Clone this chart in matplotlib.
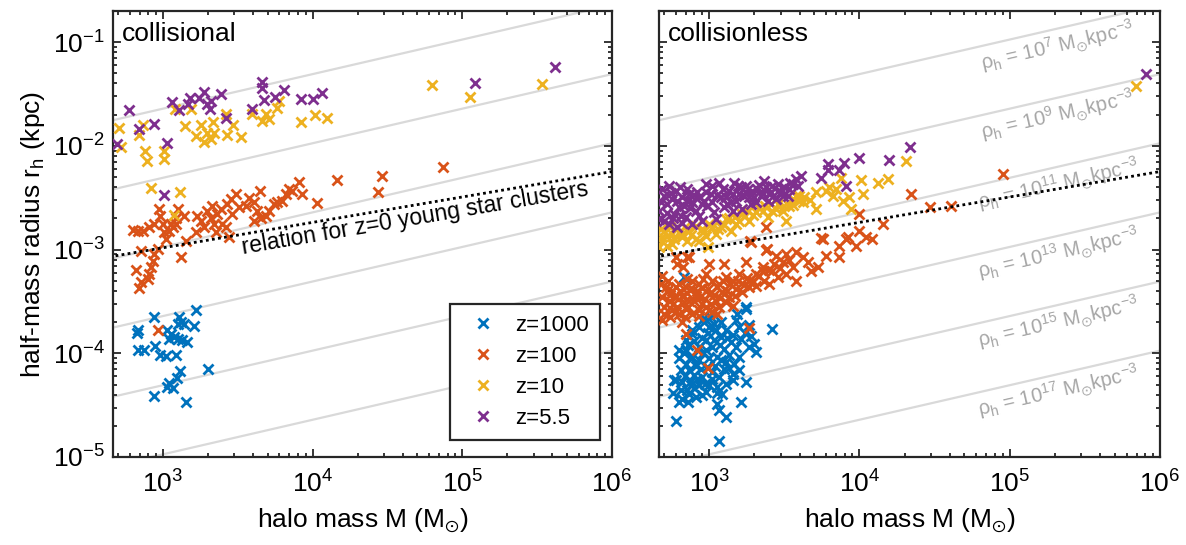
import numpy as np
import matplotlib
matplotlib.use("Agg")
import matplotlib.pyplot as plt
from matplotlib.ticker import LogLocator, NullFormatter

plt.rcParams['font.family'] = ['Liberation Sans', 'DejaVu Sans']
plt.rcParams['mathtext.fontset'] = 'custom'
plt.rcParams['mathtext.rm'] = 'Liberation Sans'
plt.rcParams['mathtext.it'] = 'Liberation Sans:italic'
plt.rcParams['mathtext.default'] = 'regular'

labels = ['z=1000', 'z=100', 'z=10', 'z=5.5']
colors = ['#0072BD', '#D95319', '#EDB120', '#7E2F8E']

# collisional panel: (halo mass Msun, half-mass radius kpc)
cl_z1000 = [(1660, 2.63e-4), (875, 2.23e-4), (1284, 2.23e-4), (1318, 2.0e-4), (1253, 1.93e-4),
            (1387, 1.93e-4), (1603, 1.82e-4), (684, 1.66e-4), (671, 1.57e-4), (1074, 1.66e-4),
            (1130, 1.55e-4), (1102, 1.38e-4), (1189, 1.43e-4), (1253, 1.38e-4), (1352, 1.33e-4),
            (1445, 1.28e-4), (678, 1.08e-4), (743, 1.08e-4), (885, 1.17e-4), (959, 9.6e-5),
            (1047, 9.4e-5), (1221, 9.7e-5), (2004, 7.1e-5), (1304, 6.8e-5), (1240, 5.8e-5),
            (1102, 5.2e-5), (1074, 4.7e-5), (1161, 4.6e-5), (875, 3.9e-5), (1423, 3.4e-5)]
cl_z100 = [(634, 0.00155), (678, 0.00152), (732, 0.00150), (811, 0.00164), (875, 0.00177),
           (945, 0.00246), (959, 0.00212), (995, 0.00177), (1020, 0.00147), (1047, 0.00127),
           (1102, 0.00152), (1130, 0.00177), (1161, 0.00164), (1221, 0.00177), (1253, 0.00246),
           (1221, 0.00204), (1387, 0.00212), (1423, 0.00122), (1318, 0.00084), (922, 0.00102),
           (875, 0.00091), (853, 0.00078), (832, 0.00068), (811, 0.00058), (791, 0.00052),
           (713, 0.00049), (695, 0.00043), (661, 0.00063), (713, 0.00098), (1702, 0.00212),
           (1791, 0.0019), (1660, 0.00147), (1884, 0.00164), (1986, 0.00237), (2089, 0.00204),
           (2143, 0.00265), (2198, 0.00177), (2256, 0.00147), (2317, 0.0022), (2437, 0.00246),
           (2500, 0.00177), (2630, 0.00164), (2767, 0.00131), (2699, 0.00275), (2917, 0.0022),
           (2838, 0.00307), (3069, 0.00343), (3228, 0.00255), (3573, 0.00265), (3760, 0.00318),
           (4064, 0.00285), (4277, 0.00237), (4064, 0.0019), (4452, 0.00369), (4500, 0.00204),
           (4860, 0.00212), (5117, 0.00237), (5520, 0.00275), (5816, 0.00285), (6281, 0.00296),
           (6607, 0.00343), (6950, 0.00383), (7322, 0.00369), (8110, 0.00444), (8537, 0.00343),
           (10640, 0.00279), (14620, 0.00468), (27230, 0.00356), (29170, 0.00514),
           (74300, 0.00628), (930, 0.000169)]
cl_z10 = [(512, 0.0150), (525, 0.0098), (695, 0.0128), (732, 0.0158), (759, 0.00895),
          (782, 0.00718), (1020, 0.00895), (1020, 0.00745), (1202, 0.0225), (1402, 0.0156),
          (1537, 0.0225), (1660, 0.0125), (1791, 0.0159), (1884, 0.0108), (1986, 0.0134),
          (2178, 0.0170), (2198, 0.0134), (2089, 0.0116), (2630, 0.0202), (2671, 0.0128),
          (2958, 0.0159), (3311, 0.0122), (3963, 0.0202), (4620, 0.0174), (4860, 0.0202),
          (5117, 0.0181), (5816, 0.0233), (5960, 0.0271), (8318, 0.0171), (10360, 0.0197),
          (12530, 0.0187), (832, 0.00397), (1304, 0.00361), (1189, 0.00215), (62800, 0.0383),
          (113000, 0.0298), (340000, 0.0397)]
cl_z55 = [(596, 0.0220), (695, 0.0145), (867, 0.0164), (1074, 0.0106), (494, 0.0104),
          (1143, 0.0267), (1284, 0.0220), (1475, 0.0252), (1520, 0.0291), (1746, 0.0291),
          (1884, 0.0332), (1965, 0.0255), (2089, 0.0271), (2066, 0.0225), (2437, 0.0314),
          (2630, 0.0187), (3920, 0.0225), (4571, 0.0415), (4571, 0.0359), (4736, 0.0275),
          (5580, 0.0296), (6437, 0.0343), (8318, 0.0285), (10040, 0.0285), (11600, 0.0321),
          (1020, 0.00338), (122000, 0.0401), (417000, 0.0574)]

# collisionless panel: (log10 M, log10 r_h)
nc_z1000 = [(3.422, -3.763), (3.267, -3.731), (3.244, -3.555), (3.178, -3.683), (2.782, -4.651),
            (3.067, -4.843), (3.116, -4.613), (3.067, -4.549), (3.056, -4.485), (3.211, -4.469),
            (3.244, -4.276), (3.2, -4.164), (3.156, -4.26), (3.3, -3.908), (3.311, -3.988),
            (3.267, -3.94), (2.8, -3.972), (2.844, -3.876), (2.889, -3.812), (2.933, -3.747),
            (2.978, -3.683), (3.011, -3.651), (3.044, -3.779), (3.078, -3.844), (3.111, -3.779),
            (3.144, -3.892), (3.178, -3.94), (3.2, -4.036), (3.167, -4.1), (3.133, -4.02),
            (3.1, -3.956), (3.056, -4.036), (3.022, -3.94), (2.978, -3.876), (2.933, -3.94),
            (2.889, -4.036), (2.844, -4.1), (2.811, -4.164), (2.778, -4.26), (2.822, -4.276),
            (2.811, -4.356), (2.822, -4.436), (2.867, -4.388), (2.911, -4.42), (2.878, -4.308),
            (2.933, -4.308), (2.956, -4.228), (2.9, -4.212), (2.867, -4.164), (2.989, -4.132),
            (3.022, -4.18), (3.067, -4.228), (3.1, -4.148), (3.0, -4.308), (2.978, -4.372),
            (3.056, -4.324), (3.111, -4.292), (2.933, -4.068), (2.844, -3.972), (2.944, -4.148),
            (3.089, -4.388), (3.111, -4.084), (2.833, -3.267), (3.244, -3.571), (3.189, -3.619),
            (2.956, -3.683), (3.0, -3.748), (2.889, -3.78), (2.767, -4.26),
            (2.80, -4.05), (2.83, -4.00), (2.86, -3.92), (2.90, -3.88), (2.95, -3.85),
            (2.99, -3.80), (3.03, -3.87), (3.07, -3.92), (3.12, -3.85), (3.16, -3.82),
            (3.21, -3.86), (3.24, -3.80), (2.87, -4.05), (2.91, -4.12), (2.96, -4.00),
            (3.00, -4.05), (3.04, -4.12), (3.08, -4.06), (3.13, -4.14), (3.16, -4.20),
            (2.84, -4.22), (2.88, -4.27), (2.92, -4.25), (2.97, -4.30), (3.02, -4.25),
            (3.05, -4.38), (2.85, -4.35), (2.95, -4.40), (2.90, -4.33), (3.20, -3.75),
            (3.28, -3.83), (3.08, -3.70), (3.03, -3.72), (2.98, -3.97), (2.76, -4.38),
            (2.80, -4.47), (2.86, -4.47)]
nc_z100 = [(3.278, -2.924), (3.378, -3.004), (3.744, -2.889), (3.867, -2.962), (3.922, -2.882),
           (3.867, -3.074), (2.856, -3.074), (2.789, -3.138), (3.0, -3.138), (3.1, -3.138),
           (3.244, -3.122), (3.444, -3.058), (3.511, -3.042), (3.578, -3.026), (3.622, -3.074),
           (3.656, -3.122), (3.678, -3.202), (3.556, -3.17), (3.489, -3.122), (3.778, -3.058),
           (3.722, -3.17), (3.578, -3.298), (3.511, -3.234), (3.422, -3.202), (3.356, -3.17),
           (3.311, -3.234), (3.267, -3.298), (3.2, -3.234), (3.156, -3.298), (3.111, -3.266),
           (3.067, -3.331), (3.022, -3.298), (2.978, -3.234), (2.933, -3.331), (2.889, -3.298),
           (2.844, -3.363), (2.8, -3.331), (2.756, -3.395), (2.711, -3.363), (2.689, -3.459),
           (2.733, -3.491), (2.778, -3.459), (2.822, -3.443), (2.867, -3.491), (2.911, -3.443),
           (2.956, -3.523), (3.0, -3.427), (3.044, -3.491), (3.089, -3.411), (3.133, -3.459),
           (3.178, -3.379), (3.222, -3.411), (3.267, -3.363), (3.311, -3.347), (3.367, -3.298),
           (3.4, -3.331), (3.456, -3.266), (2.7, -3.555), (2.756, -3.587), (2.8, -3.619),
           (2.844, -3.571), (2.889, -3.619), (2.933, -3.587), (2.978, -3.555), (3.022, -3.603),
           (3.067, -3.555), (3.111, -3.507), (3.156, -3.539), (2.689, -3.683), (2.822, -3.699),
           (2.678, -3.331), (4.958, -2.273), (4.472, -2.587), (4.609, -2.577), (3.996, -2.657),
           (4.344, -2.465), (3.378, -2.779), (3.756, -2.898), (4.0, -2.818), (4.044, -2.882),
           (4.156, -2.753), (4.084, -2.898), (3.978, -2.962), (3.911, -2.898), (3.273, -2.92),
           (2.865, -3.074), (2.778, -3.074), (2.827, -3.17), (3.387, -2.991),
           (3.267, -3.754), (2.918, -3.972), (2.993, -4.138), (2.844, -3.812),
           (2.72, -3.40), (2.74, -3.44), (2.76, -3.52), (2.78, -3.36), (2.79, -3.55),
           (2.81, -3.40), (2.83, -3.51), (2.85, -3.42), (2.86, -3.55), (2.88, -3.37),
           (2.90, -3.50), (2.92, -3.40), (2.94, -3.46), (2.95, -3.37), (2.97, -3.48),
           (2.99, -3.38), (3.01, -3.52), (3.03, -3.44), (3.05, -3.36), (3.07, -3.47),
           (3.09, -3.30), (3.12, -3.40), (3.14, -3.33), (3.17, -3.45), (3.19, -3.30),
           (3.23, -3.34), (3.25, -3.27), (3.29, -3.30), (3.33, -3.25), (3.36, -3.21),
           (3.40, -3.20), (3.43, -3.14), (3.47, -3.18), (3.53, -3.10), (2.70, -3.62),
           (2.74, -3.65), (2.78, -3.60), (2.84, -3.65), (2.93, -3.64), (3.0, -3.58),
           (3.05, -3.62), (2.69, -3.25), (2.73, -3.30), (2.96, -3.28), (2.85, -3.28)]
nc_z10 = [(2.7, -2.818), (2.689, -2.914), (2.722, -2.962), (2.756, -2.85), (2.789, -2.785),
          (2.822, -2.882), (2.867, -2.818), (2.911, -2.769), (2.933, -2.914), (2.967, -2.818),
          (3.0, -2.753), (3.044, -2.85), (3.078, -2.785), (3.111, -2.705), (3.144, -2.818),
          (3.178, -2.753), (3.222, -2.657), (3.256, -2.625), (3.267, -2.721), (3.311, -2.641),
          (3.356, -2.625), (3.389, -2.689), (3.411, -2.561), (3.444, -2.609), (3.489, -2.625),
          (3.511, -2.721), (3.533, -2.577), (3.556, -2.513), (3.578, -2.481), (3.6, -2.529),
          (3.622, -2.545), (3.633, -2.497), (3.711, -2.449), (3.711, -2.609), (3.778, -2.433),
          (3.8, -2.401), (3.822, -2.481), (3.844, -2.417), (3.878, -2.305), (3.889, -2.529),
          (3.933, -2.497), (3.944, -2.609), (4.022, -2.465), (4.011, -2.33), (4.122, -2.353),
          (4.189, -2.321), (4.307, -2.144), (2.689, -2.882), (2.756, -2.946), (2.822, -2.85),
          (2.911, -2.898), (2.996, -2.972), (2.667, -2.978), (5.84, -1.423),
          (2.68, -2.80), (2.72, -2.87), (2.74, -2.78), (2.77, -2.90), (2.80, -2.83),
          (2.84, -2.78), (2.85, -2.92), (2.88, -2.86), (2.95, -2.80), (2.98, -2.87),
          (3.02, -2.78), (3.06, -2.80), (3.10, -2.76), (3.13, -2.70), (3.17, -2.69),
          (3.20, -2.72), (3.24, -2.68), (3.29, -2.67), (3.33, -2.60), (3.37, -2.58),
          (3.42, -2.63), (3.46, -2.56), (3.50, -2.58), (3.56, -2.57), (3.60, -2.48),
          (3.67, -2.52)]
nc_z55 = [(2.733, -2.385), (2.7, -2.481), (2.667, -2.625), (2.7, -2.721), (2.733, -2.753),
          (2.767, -2.657), (2.8, -2.593), (2.822, -2.497), (2.844, -2.689), (2.867, -2.465),
          (2.889, -2.545), (2.911, -2.625), (2.933, -2.497), (2.956, -2.721), (2.978, -2.369),
          (2.989, -2.577), (3.011, -2.465), (3.033, -2.641), (3.067, -2.353), (3.078, -2.497),
          (3.1, -2.593), (3.133, -2.433), (3.167, -2.353), (3.178, -2.529), (3.2, -2.465),
          (3.222, -2.609), (3.244, -2.385), (3.267, -2.497), (3.289, -2.433), (3.311, -2.545),
          (3.344, -2.481), (3.367, -2.337), (3.378, -2.401), (3.4, -2.465), (3.422, -2.385),
          (3.444, -2.513), (3.478, -2.449), (3.5, -2.401), (3.533, -2.417), (3.556, -2.369),
          (3.578, -2.321), (3.611, -2.289), (3.156, -2.625), (3.044, -2.705), (2.889, -2.753),
          (2.789, -2.785), (2.678, -2.545), (2.856, -2.417), (2.811, -2.673), (2.922, -2.449),
          (2.667, -2.705), (2.756, -2.513), (2.778, -2.433), (2.833, -2.577), (2.967, -2.529),
          (3.022, -2.545), (3.111, -2.497), (3.144, -2.545), (3.211, -2.401), (3.278, -2.561),
          (3.322, -2.417), (3.389, -2.529), (3.456, -2.433), (3.522, -2.481),
          (3.744, -2.305), (3.789, -2.176), (3.789, -2.234), (3.867, -2.234), (3.9, -2.16),
          (3.911, -2.385), (3.996, -2.112), (4.196, -2.138), (4.338, -2.01), (5.907, -1.308),
          (2.69, -2.42), (2.72, -2.56), (2.75, -2.45), (2.79, -2.53), (2.81, -2.40),
          (2.85, -2.52), (2.87, -2.60), (2.90, -2.47), (2.95, -2.56), (2.98, -2.44),
          (3.02, -2.39), (3.05, -2.47), (3.09, -2.42), (3.12, -2.56), (3.16, -2.46),
          (3.19, -2.39), (3.23, -2.48), (3.26, -2.42), (3.30, -2.49), (3.33, -2.38),
          (3.36, -2.45), (3.41, -2.44), (3.46, -2.37), (3.49, -2.48), (3.54, -2.36),
          (3.59, -2.39), (2.72, -2.65), (2.76, -2.70), (2.82, -2.74), (2.93, -2.68)]

rho_levels = [1e7, 1e9, 1e11, 1e13, 1e15, 1e17]
rho_exps = ['7', '9', '11', '13', '15', '17']

# z=0 young star cluster relation r_h = r0 (M/1e4)^slope
ysc_r0 = 1.83e-3
ysc_slope = 0.245

xlim = (10 ** 2.667, 1e6)
ylim = (1e-5, 0.2)
fs = 19

fig = plt.figure(figsize=(11.86, 5.45), dpi=100)
ax1 = fig.add_axes([113 / 1186, 88 / 545, 499 / 1186, 446 / 545])
ax2 = fig.add_axes([659 / 1186, 88 / 545, 501 / 1186, 446 / 545])

mgrid = np.logspace(2, 6.5, 50)


def line_angle(ax, slope):
    p0 = ax.transData.transform((1e3, 1e-3))
    p1 = ax.transData.transform((1e5, 1e-3 * 100 ** slope))
    return np.degrees(np.arctan2(p1[1] - p0[1], p1[0] - p0[0]))


for ax in (ax1, ax2):
    ax.set_xscale('log')
    ax.set_yscale('log')
    ax.set_xlim(*xlim)
    ax.set_ylim(*ylim)
    for rho in rho_levels:
        ax.plot(mgrid, (3 * mgrid / (8 * np.pi * rho)) ** (1 / 3), color='#d9d9d9', lw=1.6, zorder=1)
    ax.plot(mgrid, ysc_r0 * (mgrid / 1e4) ** ysc_slope, color='k', ls=(0, (1, 1.2)), lw=2.0, zorder=5)
    ax.xaxis.set_major_locator(LogLocator(base=10, numticks=10))
    ax.xaxis.set_minor_locator(LogLocator(base=10, subs=np.arange(2, 10), numticks=20))
    ax.yaxis.set_major_locator(LogLocator(base=10, numticks=10))
    ax.yaxis.set_minor_locator(LogLocator(base=10, subs=np.arange(2, 10), numticks=20))
    ax.xaxis.set_minor_formatter(NullFormatter())
    ax.yaxis.set_minor_formatter(NullFormatter())
    ax.tick_params(which='both', direction='in', top=True, right=True, color='#262626',
                   labelsize=fs, width=1.3)
    ax.tick_params(which='major', length=6, pad=6)
    ax.tick_params(axis='x', which='major', pad=10)
    ax.tick_params(which='minor', length=3)
    for sp in ax.spines.values():
        sp.set_linewidth(1.6)
        sp.set_color('#262626')
    ax.set_xlabel(r'halo mass M (M$_{\odot}$)', fontsize=fs, labelpad=6)

groups_cl = [cl_z1000, cl_z100, cl_z10, cl_z55]
handles = []
for pts, c, lab in zip(groups_cl, colors, labels):
    m, r = np.array(pts).T
    h, = ax1.plot(m, r, 'x', color=c, ms=7, mew=2, label=lab, zorder=3)
    handles.append(h)

groups_nc = [nc_z1000, nc_z100, nc_z10, nc_z55]
for pts, c in zip(groups_nc, colors):
    lm, lr = np.array(pts).T
    ax2.plot(10 ** lm, 10 ** lr, 'x', color=c, ms=7, mew=2, zorder=3)

ax1.set_ylabel(r'half-mass radius r$_{\rm h}$ (kpc)', fontsize=fs, labelpad=4)
ax2.tick_params(labelleft=False)

ax1.text(0.018, 0.975, 'collisional', transform=ax1.transAxes, fontsize=fs, va='top', ha='left')
ax2.text(0.018, 0.975, 'collisionless', transform=ax2.transAxes, fontsize=fs, va='top', ha='left')

# density labels
ang = line_angle(ax2, 1 / 3)
m_lab = 10 ** 5.32
for rho, e in zip(rho_levels, rho_exps):
    r_line = (3 * m_lab / (8 * np.pi * rho)) ** (1 / 3)
    ax2.text(m_lab, r_line * 10 ** (-0.165),
             r'$\rho_{\rm h}$ = 10$^{%s}$ M$_{\odot}$kpc$^{-3}$' % e,
             color='#a6a6a6', fontsize=14.5, rotation=ang, rotation_mode='anchor',
             ha='center', va='center', zorder=2)

# young star cluster relation label
ang2 = line_angle(ax1, ysc_slope)
m_t = 10 ** 4.687
ax1.text(m_t, ysc_r0 * (m_t / 1e4) ** ysc_slope * 10 ** (-0.13),
         'relation for z=0 young star clusters', fontsize=16.5, rotation=ang2,
         rotation_mode='anchor', ha='center', va='center', zorder=6)

leg = ax1.legend(handles=handles, loc='lower right', bbox_to_anchor=(0.976, 0.038),
                 fontsize=16, frameon=True, fancybox=False, framealpha=1, edgecolor='#262626',
                 borderpad=0.5, labelspacing=0.45, handlelength=2.0, handletextpad=0.45,
                 borderaxespad=0)
leg.get_frame().set_linewidth(1.6)

fig.savefig('out.png', dpi=100)
